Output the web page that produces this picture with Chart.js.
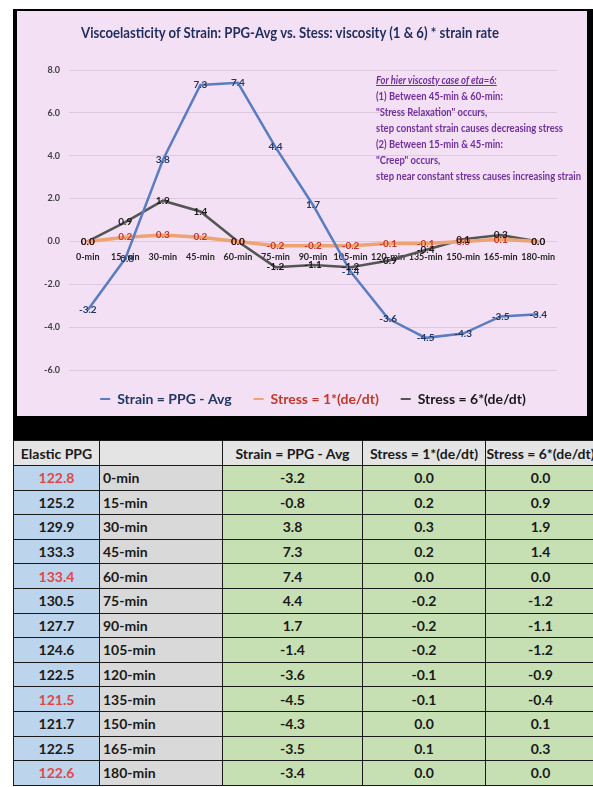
<!DOCTYPE html>
<html>
<head>
<meta charset="utf-8">
<script src="https://cdn.jsdelivr.net/npm/chart.js@4.4.1/dist/chart.umd.min.js"></script>
<style>
  body { margin: 0; background: #fff; width: 593px; height: 787px; overflow: hidden; position: relative;
         font-family: Lato, "Open Sans", sans-serif; }
  .frame { position: absolute; left: 13px; top: 9px; width: 580px; height: 431px; background: #000; }
  .panel { position: absolute; left: 17px; top: 11px; width: 570px; height: 405px; background: #f4e0f4; }
  .chart-box { position: absolute; left: 17px; top: 11px; width: 570px; height: 420px; }
  .title { position: absolute; left: 81px; top: 22px; font-size: 15px; line-height: 20px; font-weight: bold; color: #1f2d5e;
           white-space: nowrap; transform-origin: 0 0; }
  .note { position: absolute; left: 376px; top: 72px; font-size: 10.5px; line-height: 16px; font-weight: bold; color: #7030a0;
          white-space: nowrap; transform-origin: 0 0; }
  .note .head { font-style: italic; text-decoration: underline; }
  table { position: absolute; left: 13px; top: 440px; border-collapse: collapse; table-layout: fixed; width: 582px; }
  td, th { border: 1.5px solid #1a1a1a; padding: 0; font-size: 14px; color: #1a1a1a; overflow: hidden; white-space: nowrap; }
  th { height: 24px; background: #e4e4e4; font-weight: bold; }
  td { height: 23.6px; font-weight: bold; text-align: center; }
  td.ppg { background: #bcd4ec; }
  td.ppg.red { color: #e04848; }
  td.time { background: #d9d9d9; text-align: left; padding-left: 3px; }
  td.val { background: #c6e0b4; }
</style>
</head>
<body>
<div class="frame"></div>
<div class="panel"></div>
<div class="chart-box"><canvas id="chart"></canvas></div>
<div class="title">Viscoelasticity of Strain: PPG-Avg vs. Stess: viscosity (1 &amp; 6) * strain rate</div>
<div class="note">
  <div class="head">For hier viscosty case of eta=6:</div>
  <div>(1) Between 45-min &amp; 60-min:</div>
  <div>"Stress Relaxation" occurs,</div>
  <div>step constant strain causes decreasing stress</div>
  <div>(2) Between 15-min &amp; 45-min:</div>
  <div>"Creep" occurs,</div>
  <div>step near constant stress causes increasing strain</div>
</div>
<table id="dataTable">
  <colgroup>
    <col style="width:86px"><col style="width:123px"><col style="width:140px"><col style="width:123px"><col style="width:110px">
  </colgroup>
  <thead>
    <tr><th>Elastic PPG</th><th></th><th>Strain = PPG - Avg</th><th>Stress = 1*(de/dt)</th><th>Stress = 6*(de/dt)</th></tr>
  </thead>
  <tbody></tbody>
</table>
<script>
const timeLabels = ['0-min', '15-min', '30-min', '45-min', '60-min', '75-min', '90-min',
  '105-min', '120-min', '135-min', '150-min', '165-min', '180-min'];
const strain = [-3.2, -0.8, 3.8, 7.3, 7.4, 4.4, 1.7, -1.4, -3.6, -4.5, -4.3, -3.5, -3.4];
const stress1 = [0.0, 0.2, 0.3, 0.2, 0.0, -0.2, -0.2, -0.2, -0.1, -0.1, 0.0, 0.1, 0.0];
const stress6 = [0.0, 0.9, 1.9, 1.4, 0.0, -1.2, -1.1, -1.2, -0.9, -0.4, 0.1, 0.3, 0.0];
const elasticPPG = [122.8, 125.2, 129.9, 133.3, 133.4, 130.5, 127.7, 124.6, 122.5, 121.5, 121.7, 122.5, 122.6];
const redRows = [0, 4, 9, 12];

const seriesNames = ['Strain = PPG - Avg', 'Stress = 1*(de/dt)', 'Stress = 6*(de/dt)'];
const lineColors = ['#5a7cc0', '#eea472', '#555555'];
const textColors = ['#1f3864', '#c0392b', '#1a1a1a'];

const fontFamily = 'Lato, "Open Sans", sans-serif';
Chart.defaults.font.family = fontFamily;

// squeeze title and note to the widths they have in the original
const titleEl = document.querySelector('.title');
titleEl.style.transform = 'scaleX(' + (418 / titleEl.offsetWidth) + ')';
const noteEl = document.querySelector('.note');
noteEl.style.transform = 'scaleX(' + (205 / noteEl.offsetWidth) + ')';

// table under the chart
const tbody = document.querySelector('#dataTable tbody');
timeLabels.forEach((t, i) => {
  const tr = document.createElement('tr');
  tr.innerHTML = `
    <td class="ppg${redRows.includes(i) ? ' red' : ''}">${elasticPPG[i].toFixed(1)}</td>
    <td class="time">${t}</td>
    <td class="val">${strain[i].toFixed(1)}</td>
    <td class="val">${stress1[i].toFixed(1)}</td>
    <td class="val">${stress6[i].toFixed(1)}</td>`;
  tbody.appendChild(tr);
});

// value labels centred on each point
const valueLabels = {
  id: 'valueLabels',
  afterDatasetsDraw(chart) {
    const ctx = chart.ctx;
    ctx.save();
    ctx.font = 'bold 10px ' + fontFamily;
    ctx.textAlign = 'center';
    ctx.textBaseline = 'middle';
    [1, 0, 2].forEach(i => {
      const ds = chart.data.datasets[i];
      chart.getDatasetMeta(i).data.forEach((pt, j) => {
        ctx.fillStyle = textColors[i];
        ctx.fillText(ds.data[j].toFixed(1), pt.x, pt.y);
      });
    });
    ctx.restore();
  }
};

const seriesData = [strain, stress1, stress6];
const widths = [2.5, 3.5, 2.5];

new Chart(document.getElementById('chart'), {
  type: 'line',
  data: {
    labels: timeLabels,
    datasets: seriesData.map((d, i) => ({
      label: seriesNames[i],
      data: d,
      borderColor: lineColors[i],
      backgroundColor: lineColors[i],
      borderWidth: widths[i],
      pointRadius: 0,
      tension: 0
    }))
  },
  options: {
    responsive: true,
    maintainAspectRatio: false,
    animation: false,
    layout: { padding: { top: 59, left: 0, right: 30, bottom: 15 } },
    scales: {
      x: {
        position: { y: 0 },
        offset: true,
        grid: { display: false },
        border: { display: false },
        ticks: { padding: 2, maxRotation: 0, autoSkip: false, color: '#262626', font: { size: 9, weight: 'bold' } }
      },
      y: {
        min: -6,
        max: 8,
        afterFit(scale) { scale.width = 52; },
        grid: { color: 'rgba(170,150,170,0.3)', drawTicks: false },
        border: { display: false },
        ticks: { stepSize: 2, padding: 9, color: '#404040', font: { size: 9, weight: 'bold' },
                 callback: v => v.toFixed(1) }
      }
    },
    plugins: {
      tooltip: { enabled: false },
      legend: {
        position: 'bottom',
        fullSize: false,
        labels: {
          boxWidth: 10,
          boxHeight: 2,
          padding: 22,
          font: { size: 14, weight: 'bold' },
          generateLabels(chart) {
            const items = Chart.defaults.plugins.legend.labels.generateLabels(chart);
            items.forEach((it, i) => { it.fontColor = textColors[i]; it.lineWidth = 0; });
            return items;
          }
        }
      }
    }
  },
  plugins: [valueLabels]
});
</script>
</body>
</html>
